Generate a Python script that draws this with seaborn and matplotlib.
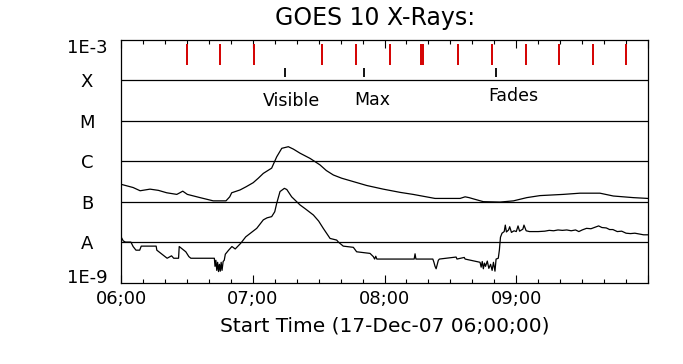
import numpy as np
import pandas as pd
import matplotlib
matplotlib.use("Agg")
import matplotlib.pyplot as plt
import seaborn as sns

# minutes after 06:00, log10 of flux (W/m^2)
long_min = [0, 5.5, 8.7, 13.2, 17, 20.8, 25.4, 26.8, 28.1, 30.2, 36.0, 42.0, 47.8, 49.5, 50.4,
            54.2, 57, 60.2, 62.5, 64.8, 68.6, 70.9, 73.2, 76.2, 78.5, 81.5, 86.1, 90.6, 93.5,
            96.7, 100.5, 104.3, 111.9, 119.4, 127.1, 133.0, 138, 143.0, 154.4, 156.7, 158.5,
            160.4, 165.0, 172.6, 178.7, 184.8, 190.8, 201.4, 209.0, 218.1, 224.2, 233.3, 240]
long_log = [-6.57, -6.65, -6.73, -6.69, -6.72, -6.78, -6.82, -6.78, -6.74, -6.82, -6.90, -6.98,
            -6.98, -6.88, -6.78, -6.71, -6.63, -6.53, -6.42, -6.30, -6.17, -5.89, -5.68, -5.64,
            -5.70, -5.80, -5.93, -6.09, -6.23, -6.34, -6.42, -6.48, -6.60, -6.69, -6.77, -6.82,
            -6.87, -6.92, -6.92, -6.88, -6.90, -6.93, -7.00, -7.01, -6.98, -6.90, -6.85, -6.82,
            -6.79, -6.79, -6.86, -6.90, -6.92]

short_min = [0.0, 1.0, 2.0, 4.5, 5.5, 6.8, 8.5, 9.2, 16.0, 16.3, 21.0, 23.0, 24.0, 26.2, 26.5,
             29.5, 30.9, 31.8, 42.5, 42.8, 43.2, 43.6, 44.0, 44.4, 44.8, 45.2, 45.6, 46.0, 46.5,
             47.0, 47.5, 49.0, 50.5, 52.0, 54.5, 56.8, 61.8, 64.8, 66.5, 68.6, 70.0, 70.9, 72.4,
             74.4, 75.5, 77.7, 81.5, 84.0, 87.6, 90.0, 92.1, 95.2, 98.2, 99.0, 101.2, 105.8,
             107.3, 113.4, 114.9, 115.5, 116.0, 116.5, 133.5, 133.9, 134.3, 142.0, 142.5, 143.0,
             143.5, 144.0, 144.5, 145.0, 152.6, 153.0, 156.3, 156.7, 163.5, 164.0, 164.5, 165.0,
             165.5, 166.0, 166.8, 167.5, 168.3, 169.0, 169.6, 170.3, 170.8, 171.8, 172.3, 172.8,
             173.5, 174.5, 175.0, 175.5, 176.5, 177.0, 177.8, 179, 180, 180.8, 181.5, 183, 183.5,
             184.5, 186, 190, 193, 195, 197, 199, 201, 203, 205, 207, 208.5, 210, 212, 214, 216,
             217.5, 219, 221, 222.5, 224, 226, 228, 230, 232, 234, 236, 238, 240]
short_log = [-7.87, -7.97, -8.00, -8.00, -8.11, -8.20, -8.20, -8.10, -8.10, -8.20, -8.40, -8.34,
             -8.40, -8.40, -8.11, -8.24, -8.36, -8.40, -8.40, -8.60, -8.45, -8.70, -8.50, -8.73,
             -8.55, -8.72, -8.50, -8.70, -8.48, -8.45, -8.30, -8.20, -8.11, -8.17, -8.03, -7.87,
             -7.66, -7.45, -7.40, -7.37, -7.25, -7.04, -6.75, -6.67, -6.70, -6.88, -7.08, -7.18,
             -7.33, -7.48, -7.66, -7.91, -7.95, -8.00, -8.10, -8.13, -8.24, -8.28, -8.36, -8.42,
             -8.35, -8.42, -8.42, -8.29, -8.42, -8.42, -8.50, -8.60, -8.66, -8.55, -8.45, -8.42,
             -8.37, -8.42, -8.38, -8.42, -8.50, -8.62, -8.48, -8.66, -8.52, -8.60, -8.47, -8.65,
             -8.55, -8.70, -8.50, -8.72, -8.42, -8.40, -8.20, -7.88, -7.78, -7.74, -7.58, -7.75,
             -7.70, -7.62, -7.76, -7.72, -7.74, -7.60, -7.73, -7.68, -7.58, -7.72, -7.74, -7.74,
             -7.73, -7.71, -7.72, -7.70, -7.71, -7.70, -7.72, -7.70, -7.74, -7.70, -7.66, -7.67,
             -7.63, -7.60, -7.64, -7.65, -7.69, -7.69, -7.74, -7.73, -7.78, -7.79, -7.78, -7.80,
             -7.82, -7.82]

red_marks = [30, 45, 60.5, 91.5, 107, 122.5, 136.5, 137.5, 153.5, 169, 184.5, 199.5, 215, 230]
event_marks = [74.6, 110.5, 170.7]
event_names = ["Visible", "Max", "Fades"]
event_text_min = [77.4, 114.3, 178.5]
event_text_log = [-4.51, -4.48, -4.39]

class_levels = [-4, -5, -6, -7, -8]
ylabel_log = [-3.15, -4, -5, -6, -7, -8, -8.85]
ylabel_text = ["1E-3", "X", "M", "C", "B", "A", "1E-9"]
hour_ticks = [0, 60, 120, 180]
hour_labels = ["06;00", "07;00", "08;00", "09;00"]

sns.set_style("white")
plt.rcParams['font.family'] = ['DejaVu Sans']
plt.rcParams['text.color'] = 'black'
plt.rcParams['xtick.color'] = 'black'
plt.rcParams['ytick.color'] = 'black'
plt.rcParams['axes.labelcolor'] = 'black'

long_df = pd.DataFrame({"t": long_min, "flux": 10 ** np.array(long_log)})
short_df = pd.DataFrame({"t": short_min, "flux": 10 ** np.array(short_log)})

fig = plt.figure(figsize=(6.83, 3.64), dpi=100)
ax = fig.add_axes([0.1772, 0.2239, 0.7716, 0.6662])

sns.lineplot(data=long_df, x="t", y="flux", ax=ax, color="black", lw=0.9)
sns.lineplot(data=short_df, x="t", y="flux", ax=ax, color="black", lw=0.9)

ax.set_yscale("log")
ax.set_xlim(0, 240)
ax.set_ylim(1e-9, 1e-3)

for lv in class_levels:
    ax.axhline(10 ** lv, color="black", lw=0.9)

ax.vlines(red_marks, 10 ** -3.62, 10 ** -3.10, color="#d40000", lw=1.4)
ax.vlines(event_marks, 10 ** -3.92, 10 ** -3.69, color="black", lw=1.3)
for t, lg, name in zip(event_text_min, event_text_log, event_names):
    ax.text(t, 10 ** lg, name, ha="center", va="center", fontsize=12.5)

ax.yaxis.set_major_locator(matplotlib.ticker.FixedLocator([10 ** v for v in ylabel_log]))
ax.yaxis.set_minor_locator(matplotlib.ticker.NullLocator())
ax.set_yticklabels(ylabel_text, fontsize=13, ha="center")
ax.tick_params(axis="y", length=0, pad=24.5)

ax.set_xticks(hour_ticks + [240])
ax.set_xticklabels(hour_labels + [""], fontsize=13)
ax.set_xticks(np.arange(0, 241, 10), minor=True)
ax.tick_params(axis="x", which="major", direction="in", length=6, width=0.8,
               top=True, bottom=True, pad=5.5)
ax.tick_params(axis="x", which="minor", direction="in", length=3, width=0.8,
               top=True, bottom=True)

ax.set_xlabel("Start Time (17-Dec-07 06;00;00)", fontsize=14.5, labelpad=6)
ax.set_ylabel("")
fig.text(375 / 683, 1 - 18 / 364, "GOES 10 X-Rays:", fontsize=17, ha="center", va="center")

for sp in ax.spines.values():
    sp.set_color("black")
    sp.set_linewidth(0.9)

fig.savefig("out.png", dpi=100)
